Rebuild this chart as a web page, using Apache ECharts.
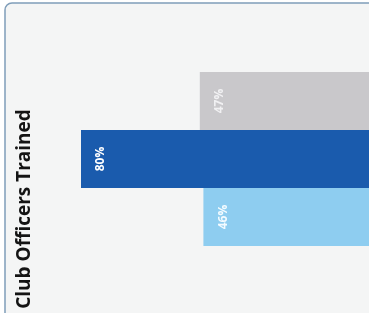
<!DOCTYPE html>
<html>
<head>
<meta charset="utf-8">
<script src="https://cdn.jsdelivr.net/npm/echarts@6/dist/echarts.min.js"></script>
<style>
	html, body { margin: 0; padding: 0; background: #fff; }
	#chart { width: 369px; height: 313px; }
</style>
</head>
<body>
<div id="chart"></div>
<script>
(function() {
	// bars from top to bottom
	var groups = ['Group A', 'Group B', 'Group C'];
	var trained = [47, 80, 46];
	var barColors = ['#c9c8cb', '#1a5bad', '#8ecdf0'];
	var labelColors = ['#f1f1f3', '#ffffff', '#f4fbff'];
	var titleText = 'Club Officers Trained';

	var chart = echarts.init(document.getElementById('chart'));

	var items = trained.map(function(v, i) {
		return {
			value: v,
			itemStyle: { color: barColors[i] },
			label: { color: labelColors[i] }
		};
	});

	chart.setOption({
		animation: false,
		graphic: [
			{
				type: 'rect',
				z: -10,
				shape: { x: 5, y: 3, width: 420, height: 400, r: 7 },
				style: { fill: '#f4f5f5', stroke: '#7f9db9', lineWidth: 1.5 }
			},
			{
				type: 'text',
				z: 10,
				x: 25,
				y: 209,
				rotation: Math.PI / 2,
				style: {
					text: titleText,
					font: 'bold 19px "Open Sans", sans-serif',
					fill: '#141414',
					align: 'center',
					verticalAlign: 'middle'
				}
			}
		],
		grid: { left: 9, right: 0, top: 72, bottom: 67 },
		xAxis: {
			type: 'value',
			min: 0,
			max: 100,
			inverse: true,
			show: false
		},
		yAxis: {
			type: 'category',
			data: groups,
			inverse: true,
			show: false
		},
		series: [{
			type: 'bar',
			data: items,
			barCategoryGap: 0,
			label: {
				show: true,
				position: [20, '50%'],
				rotate: 90,
				align: 'center',
				verticalAlign: 'middle',
				fontFamily: '"Open Sans", sans-serif',
				fontWeight: 'bold',
				fontSize: 12,
				formatter: function(p) { return p.value + '%'; }
			}
		}]
	});
})();
</script>
</body>
</html>
